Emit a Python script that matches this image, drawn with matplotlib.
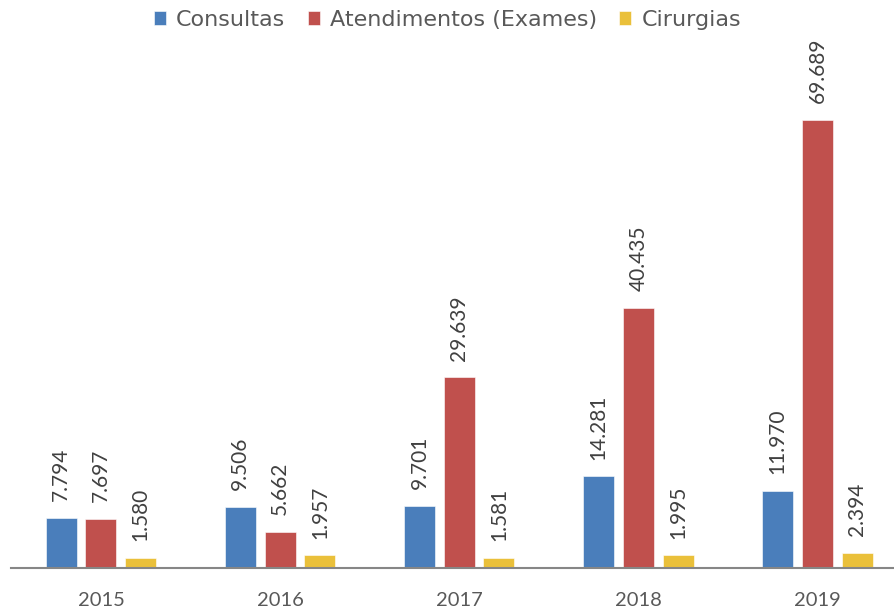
import matplotlib
matplotlib.use("Agg")
import numpy as np
from matplotlib import pyplot as plt

# Dados por ano
anos = ["2015", "2016", "2017", "2018", "2019"]
consultas = [7794, 9506, 9701, 14281, 11970]
atendimentos = [7697, 5662, 29639, 40435, 69689]
cirurgias = [1580, 1957, 1581, 1995, 2394]

series = ["Consultas", "Atendimentos (Exames)", "Cirurgias"]
cores = ["#4A7EBB", "#C0504D", "#EAC03A"]

fig = plt.figure(figsize=(8.95, 6.12), dpi=100)
ax = fig.add_axes([11.4 / 895, 44 / 612, 895.6 / 895, 568 / 612])

x = np.arange(len(anos))
largura = 0.173
passo = 0.222

barras = []
for i, (valores, cor, nome) in enumerate(zip([consultas, atendimentos, cirurgias], cores, series)):
    b = ax.bar(x + (i - 1) * passo, valores, largura, color=cor, label=nome,
               edgecolor="#FFFFFF", linewidth=0.4)
    barras.append(b)
    # rótulos de valor na vertical
    for xi, v in zip(x + (i - 1) * passo, valores):
        ax.annotate(f"{v:,}".replace(",", "."), (xi, v), xytext=(0, 12),
                    textcoords="offset points", rotation=90, ha="center", va="bottom",
                    fontsize=15, family="Lato", color="#404040")

ax.set_xlim(-0.5, len(anos) - 0.5)
ax.set_ylim(0, 88356)
ax.set_xticks(x)
ax.set_xticklabels(anos, fontsize=14.5, family="Lato", color="#595959")
ax.tick_params(axis="x", length=0, pad=17)
ax.set_yticks([])
for lado in ["top", "right", "left"]:
    ax.spines[lado].set_visible(False)
ax.spines["bottom"].set_color("#868686")
ax.spines["bottom"].set_linewidth(1.5)
ax.patch.set_alpha(0)

fig.legend(handles=barras, loc="center", bbox_to_anchor=(0.5, 1 - 20 / 612), ncol=3,
           frameon=False, handlelength=0.55, handleheight=0.55,
           handletextpad=0.45, columnspacing=1.0, borderpad=0, borderaxespad=0,
           labelcolor="#595959", prop={"family": "DejaVu Sans", "size": 16})

fig.savefig("out.png", dpi=100)
